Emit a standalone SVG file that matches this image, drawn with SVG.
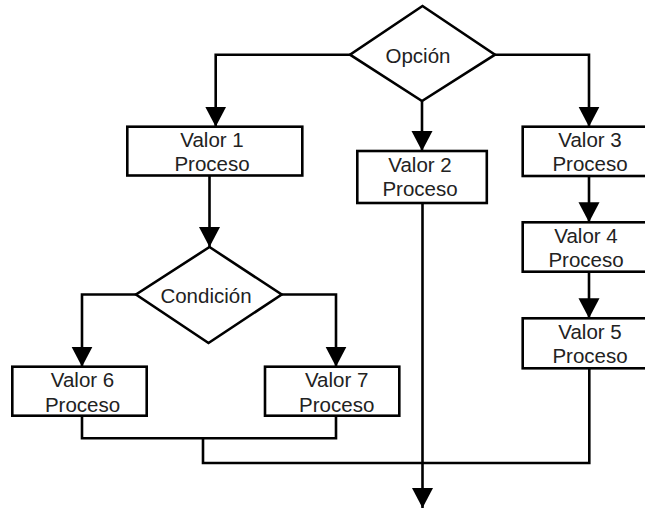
<svg xmlns="http://www.w3.org/2000/svg" width="645" height="508" viewBox="0 0 645 508">
  <style>
    .shape { fill: #ffffff; stroke: #000000; stroke-width: 2.6; stroke-linejoin: miter; }
    .wire { fill: none; stroke: #000000; stroke-width: 2.6; stroke-linejoin: miter; }
    .label { font-family: "Liberation Sans", Arial, sans-serif; font-size: 20.5px; fill: #222222; text-anchor: middle; }
  </style>
  <defs>
    <marker id="arrow" markerUnits="userSpaceOnUse" markerWidth="22" markerHeight="21" viewBox="0 0 22 21" refX="11" refY="20" orient="auto-start-reverse">
      <path d="M0.5,0 L21.5,0 L11,20 Z" fill="#000000" transform="rotate(-90 11 10)"/>
    </marker>
    <marker id="head" markerUnits="userSpaceOnUse" markerWidth="22" markerHeight="22" viewBox="0 0 22 22" refX="20" refY="11" orient="auto">
      <path d="M0,0.5 L20,11 L0,21.5 Z" fill="#000000"/>
    </marker>
  </defs>

  <!-- connectors -->
  <g id="connectors" class="wire">
    <path d="M350,54.7 H215.7 V126.7" marker-end="url(#head)"/>
    <path d="M495,54.7 H589 V126.7" marker-end="url(#head)"/>
    <path d="M422,101 V151" marker-end="url(#head)"/>
    <path d="M209.5,175.5 V247" marker-end="url(#head)"/>
    <path d="M136,294.5 H82 V366.7" marker-end="url(#head)"/>
    <path d="M281.7,294.5 H336 V366.7" marker-end="url(#head)"/>
    <path d="M589,176 V222.3" marker-end="url(#head)"/>
    <path d="M589,271.7 V318.3" marker-end="url(#head)"/>
    <path d="M422.5,203 V508" marker-end="url(#head)"/>
    <path d="M82,415.7 V438.3 H336 V415.7"/>
    <path d="M203,438.3 V463 H589.3 V368.3"/>
  </g>

  <!-- decision: Opción -->
  <g id="opcion">
    <polygon class="shape" points="422.5,6 495,54.7 422,101 350,54.7"/>
    <text class="label" x="418" y="62.5">Opción</text>
  </g>

  <!-- process boxes -->
  <g id="valor1">
    <rect class="shape" x="127.3" y="126.7" width="175" height="48.8"/>
    <text class="label" x="212" y="147">Valor 1</text>
    <text class="label" x="212" y="171">Proceso</text>
  </g>

  <g id="valor2">
    <rect class="shape" x="357.3" y="151" width="129.5" height="52"/>
    <text class="label" x="420" y="172">Valor 2</text>
    <text class="label" x="420" y="196">Proceso</text>
  </g>

  <g id="valor3">
    <rect class="shape" x="522.7" y="126.7" width="134" height="49.3"/>
    <text class="label" x="590" y="147">Valor 3</text>
    <text class="label" x="590" y="171">Proceso</text>
  </g>

  <g id="valor4">
    <rect class="shape" x="522.7" y="222.3" width="134" height="49.4"/>
    <text class="label" x="586" y="243">Valor 4</text>
    <text class="label" x="586" y="267">Proceso</text>
  </g>

  <g id="valor5">
    <rect class="shape" x="522.7" y="318.3" width="134" height="50"/>
    <text class="label" x="590" y="339">Valor 5</text>
    <text class="label" x="590" y="363">Proceso</text>
  </g>

  <!-- decision: Condición -->
  <g id="condicion">
    <polygon class="shape" points="209.5,247 281.7,294.5 208.5,343 136,294.5"/>
    <text class="label" x="206" y="303">Condición</text>
  </g>

  <g id="valor6">
    <rect class="shape" x="12.3" y="366.7" width="134.4" height="49"/>
    <text class="label" x="82.5" y="387">Valor 6</text>
    <text class="label" x="82.5" y="411.5">Proceso</text>
  </g>

  <g id="valor7">
    <rect class="shape" x="265" y="366.7" width="134.3" height="49"/>
    <text class="label" x="336.7" y="387">Valor 7</text>
    <text class="label" x="336.7" y="411.5">Proceso</text>
  </g>
</svg>
